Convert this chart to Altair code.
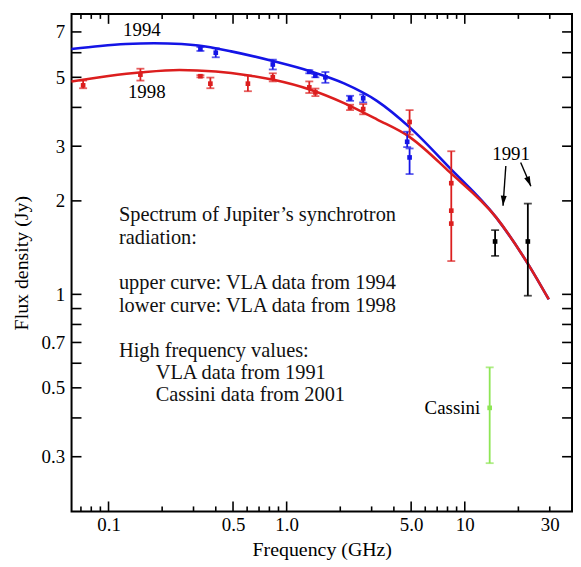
import altair as alt
import pandas as pd

FONT = "Liberation Serif"

# ---- fitted curves (frequency GHz, flux Jy) ----
blue_freq = [0.0619, 0.09, 0.125, 0.18, 0.257, 0.32, 0.488, 0.857, 1.34, 2.10, 3.21, 4.91, 8.2, 15.0, 22.9, 29.6]
blue_flux = [6.17, 6.31, 6.40, 6.44, 6.40, 6.33, 6.06, 5.62, 5.24, 4.78, 4.20, 3.45, 2.56, 1.77, 1.24, 0.964]
red_freq = [0.0619, 0.1, 0.154, 0.25, 0.4, 0.6, 0.857, 1.36, 2.10, 3.21, 4.91, 8.2, 15.0, 22.9, 29.6]
red_flux = [4.85, 5.05, 5.19, 5.28, 5.22, 5.08, 4.90, 4.56, 4.13, 3.66, 3.21, 2.48, 1.77, 1.24, 0.964]

# ---- measured points ----
blue_pt_freq = [0.328, 0.40, 0.836, 1.34, 1.45, 1.65, 2.27, 2.69, 4.75, 4.9]
blue_pt_val = [6.17, 6.0, 5.5, 5.21, 5.06, 5.0, 4.28, 4.28, 3.10, 2.76]
blue_pt_lo = [6.08, 5.8, 5.3, 5.15, 5.0, 4.8, 4.2, 4.15, 2.98, 2.44]
blue_pt_hi = [6.26, 6.2, 5.7, 5.27, 5.12, 5.2, 4.36, 4.4, 3.34, 2.95]

red_pt_freq = [0.072, 0.151, 0.328, 0.373, 0.606, 0.836, 1.34, 1.45, 2.27, 2.69, 4.9, 8.4, 8.4, 8.4]
red_pt_val = [4.71, 5.1, 5.04, 4.77, 4.77, 5.0, 4.64, 4.47, 4.0, 3.95, 3.59, 2.28, 1.86, 1.69]
red_pt_lo = [4.61, 4.88, 5.0, 4.61, 4.51, 4.85, 4.45, 4.35, 3.92, 3.8, 3.27, 1.28, 1.86, 1.69]
red_pt_hi = [4.88, 5.33, 5.08, 4.99, 5.07, 5.15, 4.85, 4.6, 4.08, 4.1, 3.92, 2.89, 1.86, 1.69]

vla91_freq = [14.8, 22.6]
vla91_val = [1.48, 1.48]
vla91_lo = [1.33, 0.99]
vla91_hi = [1.61, 1.96]

cassini_freq = [13.8]
cassini_val = [0.431]
cassini_lo = [0.286]
cassini_hi = [0.582]

# ---- axis ticks ----
x_label_vals = [0.1, 0.5, 1, 5, 10, 30]
x_major = [0.1, 0.5, 1, 5, 10]
x_minor = [0.07, 0.08, 0.09, 0.2, 0.3, 0.4, 0.6, 0.7, 0.8, 0.9, 2, 3, 4, 6, 7, 8, 9, 20, 30]
y_label_vals = [0.3, 0.5, 0.7, 1, 2, 3, 5, 7]
y_ticks = [0.3, 0.4, 0.5, 0.6, 0.7, 0.8, 0.9, 1, 2, 3, 4, 5, 6, 7]

# ---- annotations ----
year_text = ["1994", "1998", "1991"]
year_freq = [0.154, 0.164, 18.2]
year_flux = [7.09, 4.48, 2.82]

arrow_f1 = [17.0, 20.6]
arrow_v1 = [2.59, 2.66]
arrow_f2 = [16.4, 23.5]
arrow_v2 = [1.93, 2.23]
arrow_angle = [4, 337]

block_text = ["Spectrum of Jupiter\u2019s synchrotron", "radiation:", "upper curve: VLA data from 1994",
              "lower curve: VLA data from 1998", "High frequency values:", "VLA data from 1991",
              "Cassini data from 2001"]
block_freq = [0.1144, 0.1144, 0.1144, 0.1144, 0.1144, 0.184, 0.184]
block_flux = [1.80, 1.52, 1.088, 0.918, 0.655, 0.557, 0.475]

W, H = 504, 501
xs = alt.Scale(type="log", domain=[0.062, 40], nice=False)
ys = alt.Scale(type="log", domain=[0.2, 8], nice=False)

xaxis = alt.Axis(values=x_label_vals,
                 labelExpr="datum.value==1 ? '1.0' : datum.value==5 ? '5.0' : format(datum.value, '~g')",
                 ticks=False, tickSize=0, domain=False, grid=False, labelFlush=False, labelOverlap=False,
                 labelFont=FONT, labelFontSize=19, labelColor="black", labelPadding=4,
                 title="Frequency (GHz)", titleFont=FONT, titleFontSize=20, titleFontWeight="normal",
                 titleColor="black", titleY=44, titleBaseline="alphabetic")
yaxis = alt.Axis(values=y_label_vals, labelExpr="format(datum.value, '~g')",
                 ticks=False, tickSize=0, domain=False, grid=False, labelFlush=False, labelOverlap=False,
                 labelFont=FONT, labelFontSize=19, labelColor="black", labelPadding=7,
                 title="Flux density (Jy)", titleFont=FONT, titleFontSize=20, titleFontWeight="normal",
                 titleColor="black", titleX=-50, titleY=H / 2, titleAngle=-90, titleBaseline="middle")


def X(field="f"):
    return alt.X(f"{field}:Q", scale=xs, axis=xaxis)


def Y(field="v"):
    return alt.Y(f"{field}:Q", scale=ys, axis=yaxis)


def pts(freq, val, lo, hi, group):
    return pd.DataFrame({"f": freq, "v": val, "lo": lo, "hi": hi, "g": group})


base = alt.Chart(pd.DataFrame({"f": [0.062, 40], "v": [0.2, 8]})).mark_point(opacity=0).encode(
    x=X(), y=Y())

# ticks (inward, on all four sides)
xmaj_df = pd.DataFrame({"f": x_major})
xmin_df = pd.DataFrame({"f": x_minor})
yt_df = pd.DataFrame({"v": y_ticks})
tick_style = dict(color="black", strokeWidth=1.6)
ticks = [
    alt.Chart(xmaj_df).mark_rule(**tick_style).encode(x=X(), y=alt.value(H), y2=alt.value(H - 10)),
    alt.Chart(xmaj_df).mark_rule(**tick_style).encode(x=X(), y=alt.value(0), y2=alt.value(10)),
    alt.Chart(xmin_df).mark_rule(**tick_style).encode(x=X(), y=alt.value(H), y2=alt.value(H - 5)),
    alt.Chart(xmin_df).mark_rule(**tick_style).encode(x=X(), y=alt.value(0), y2=alt.value(5)),
    alt.Chart(yt_df).mark_rule(**tick_style).encode(y=Y(), x=alt.value(0), x2=alt.value(10)),
    alt.Chart(yt_df).mark_rule(**tick_style).encode(y=Y(), x=alt.value(W), x2=alt.value(W - 10)),
]

curve_b = alt.Chart(pd.DataFrame({"f": blue_freq, "v": blue_flux})).mark_line(
    color="#1414e6", strokeWidth=2.6, interpolate="monotone").encode(x=X(), y=Y())
curve_r = alt.Chart(pd.DataFrame({"f": red_freq, "v": red_flux})).mark_line(
    color="#dc1e1e", strokeWidth=2.6, interpolate="monotone").encode(x=X(), y=Y())

sets = [
    (pts(blue_pt_freq, blue_pt_val, blue_pt_lo, blue_pt_hi, "b"), "#1414e6"),
    (pts(red_pt_freq, red_pt_val, red_pt_lo, red_pt_hi, "r"), "#dc1e1e"),
    (pts(vla91_freq, vla91_val, vla91_lo, vla91_hi, "k"), "black"),
    (pts(cassini_freq, cassini_val, cassini_lo, cassini_hi, "c"), "#8ee655"),
]
err_layers = []
for df, col in sets:
    dfe = df[df["hi"] > df["lo"]]
    err_layers.append(alt.Chart(dfe).mark_rule(color=col, strokeWidth=1.8).encode(
        x=X(), y=Y("lo"), y2=alt.Y2("hi")))
    err_layers.append(alt.Chart(dfe).mark_point(shape="M-1,0L1,0", size=64, color=col, strokeWidth=1.8,
                                                filled=False).encode(x=X(), y=Y("lo")))
    err_layers.append(alt.Chart(dfe).mark_point(shape="M-1,0L1,0", size=64, color=col, strokeWidth=1.8,
                                                filled=False).encode(x=X(), y=Y("hi")))
    err_layers.append(alt.Chart(df).mark_point(shape="square", size=22, color=col, filled=True,
                                               opacity=1).encode(x=X(), y=Y()))

years = alt.Chart(pd.DataFrame({"f": year_freq, "v": year_flux, "t": year_text})).mark_text(
    font=FONT, fontSize=19, color="black", baseline="middle", align="center").encode(x=X(), y=Y(), text="t:N")

arrows_df = pd.DataFrame({"f": arrow_f1, "v": arrow_v1, "f2": arrow_f2, "v2": arrow_v2, "a": arrow_angle})
arrow_lines = alt.Chart(arrows_df).mark_rule(color="black", strokeWidth=1.4).encode(
    x=X(), y=Y(), x2=alt.X2("f2"), y2=alt.Y2("v2"))
arrow_heads = alt.Chart(arrows_df).mark_point(shape="M0,0L-0.3,-1L0.3,-1Z", size=400, filled=True,
                                              color="black", opacity=1).encode(
    x=X("f2"), y=Y("v2"), angle=alt.Angle("a:Q", scale=None))

cass_lbl = alt.Chart(pd.DataFrame({"f": [12.2], "v": [0.431], "t": ["Cassini"]})).mark_text(
    font=FONT, fontSize=19, color="black", baseline="middle", align="right").encode(x=X(), y=Y(), text="t:N")

block = alt.Chart(pd.DataFrame({"f": block_freq, "v": block_flux, "t": block_text})).mark_text(
    font=FONT, fontSize=20.5, color="#111111", baseline="middle", align="left").encode(x=X(), y=Y(), text="t:N")

chart = alt.layer(base, *ticks, curve_b, curve_r, *err_layers, years, arrow_lines,
                  arrow_heads, cass_lbl, block).properties(
    width=W, height=H,
    autosize=alt.AutoSizeParams(type="none"),
    padding={"left": 64, "top": 4, "right": 1, "bottom": 50},
    background="white",
).configure_view(stroke="black", strokeWidth=2).configure_axis(
    labelFont=FONT, titleFont=FONT, labelColor="black", titleColor="black")

chart.save("out.html", embed_options={"renderer": "svg", "actions": False})
